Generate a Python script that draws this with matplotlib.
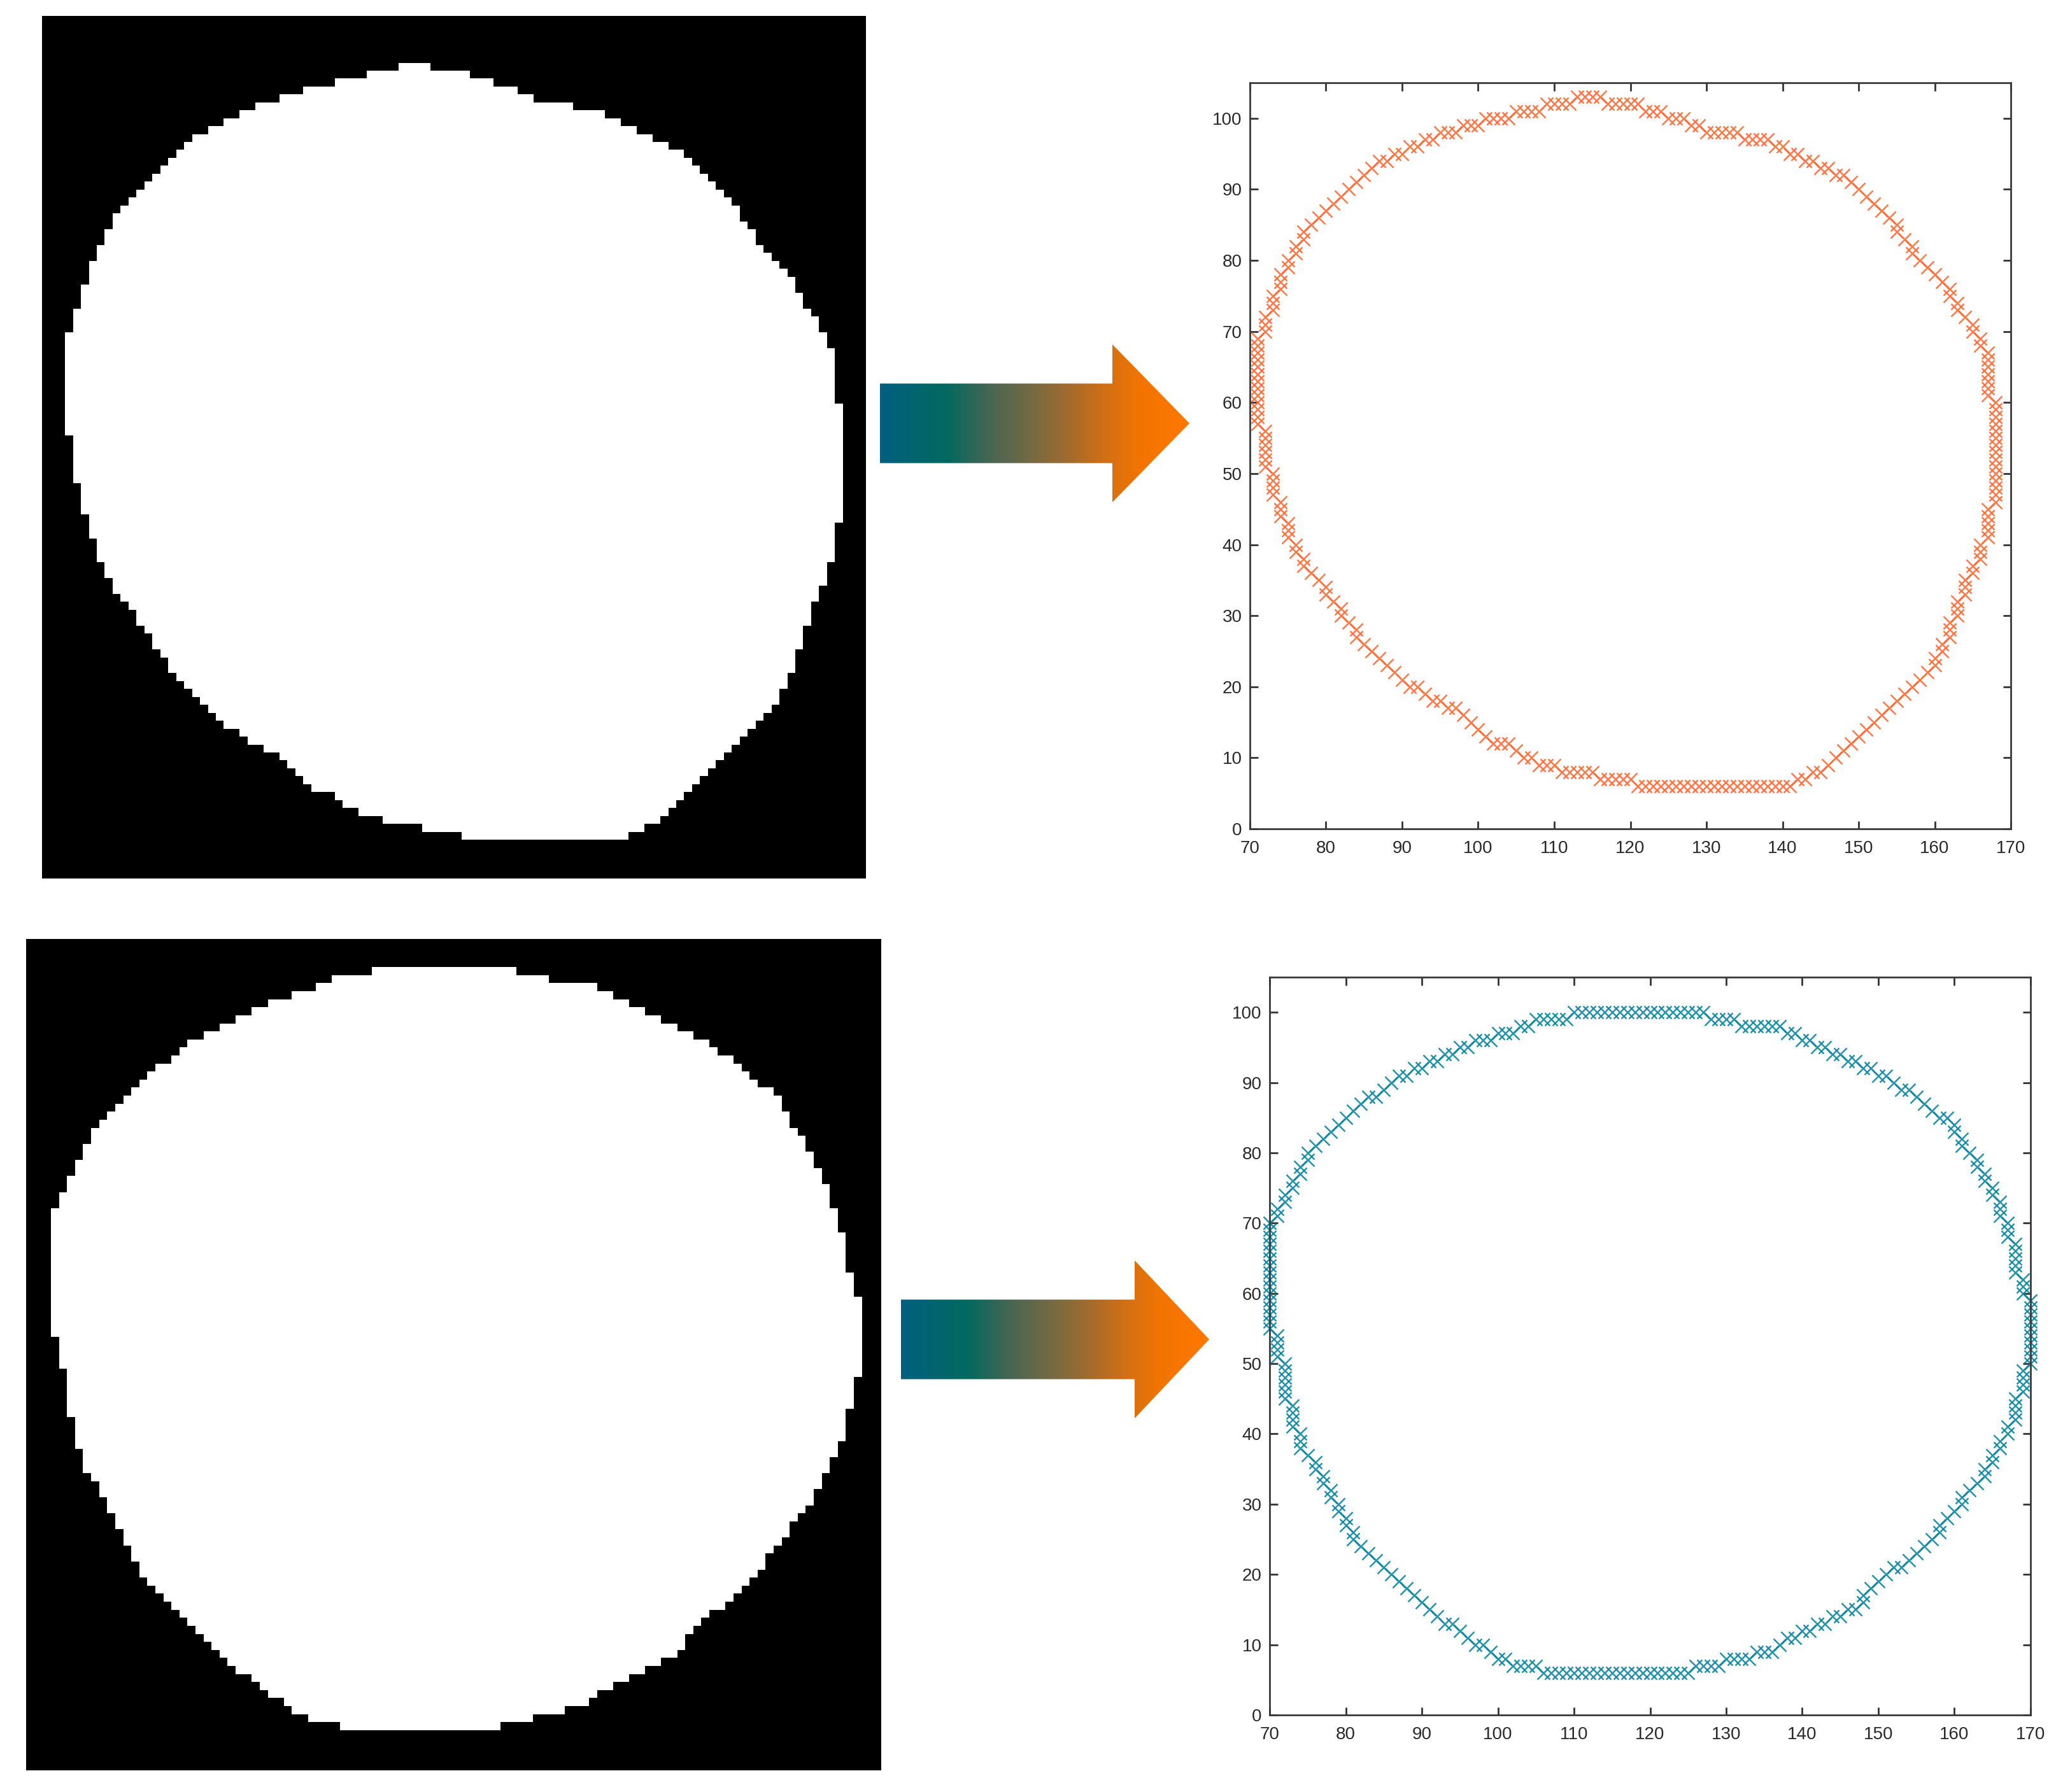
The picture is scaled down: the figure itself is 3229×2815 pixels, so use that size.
import numpy as np
import matplotlib
matplotlib.use('Agg')
import matplotlib.pyplot as plt
from matplotlib.path import Path
from matplotlib.patches import Polygon
from matplotlib.colors import LinearSegmentedColormap

plt.rcParams['font.family'] = ['Liberation Sans', 'DejaVu Sans']

# boundary pixels of the first mask (orange plot), traced clockwise from the top
top_edge = [
    (113, 103), (114, 103), (115, 103), (116, 103),
    (117, 102), (118, 102), (119, 102), (120, 102), (121, 102),
    (122, 101), (123, 101), (124, 101),
    (125, 100), (126, 100), (127, 100),
    (128, 99), (129, 99),
    (130, 98), (131, 98), (132, 98), (133, 98), (134, 98),
    (135, 97), (136, 97), (137, 97), (138, 97),
    (139, 96), (140, 96), (141, 95), (142, 95), (143, 94), (144, 94), (145, 93), (146, 93), (147, 92), (148, 92),
    (149, 91), (150, 90), (151, 89), (152, 88), (153, 87), (154, 86), (155, 85), (155, 84), (156, 83), (157, 82),
    (157, 81), (158, 80), (159, 79), (160, 78), (161, 77), (162, 76), (162, 75), (163, 74), (163, 73), (164, 72),
    (165, 71), (165, 70), (166, 69), (166, 68),
    (167, 67), (167, 66), (167, 65), (167, 64), (167, 63), (167, 62), (167, 61),
    (168, 60), (168, 59), (168, 58), (168, 57), (168, 56), (168, 55), (168, 54), (168, 53), (168, 52), (168, 51),
    (168, 50), (168, 49), (168, 48), (168, 47), (168, 46),
    (167, 45), (167, 44), (167, 43), (167, 42), (167, 41),
    (166, 40), (166, 39), (166, 38), (165, 37), (165, 36),
    (164, 35), (164, 34), (164, 33), (163, 32), (163, 31), (163, 30), (162, 29), (162, 28), (162, 27),
    (161, 26), (161, 25), (160, 24), (160, 23),
    (159, 22), (158, 21), (157, 20), (156, 19), (155, 18), (154, 17), (153, 16), (152, 15), (151, 14), (150, 13),
    (149, 12), (148, 11), (147, 10), (146, 9), (145, 8), (144, 8), (143, 7), (142, 7),
    (141, 6), (140, 6), (139, 6), (138, 6), (137, 6), (136, 6), (135, 6), (134, 6), (133, 6), (132, 6), (131, 6),
    (130, 6), (129, 6), (128, 6), (127, 6), (126, 6), (125, 6), (124, 6), (123, 6), (122, 6), (121, 6),
    (120, 7), (119, 7), (118, 7), (117, 7), (116, 7),
    (115, 8), (114, 8), (113, 8), (112, 8), (111, 8),
    (110, 9), (109, 9), (108, 9), (107, 10), (106, 10), (105, 11),
    (104, 12), (103, 12), (102, 12), (101, 13), (100, 14), (99, 15), (98, 16),
    (97, 17), (96, 17), (95, 18), (94, 18), (93, 19), (92, 20), (91, 20),
    (90, 21), (89, 22), (88, 23), (87, 24), (86, 25), (85, 26), (84, 27), (84, 28), (83, 29), (82, 30), (82, 31),
    (81, 32), (80, 33), (80, 34), (79, 35), (78, 36),
    (77, 37), (77, 38), (76, 39), (76, 40), (75, 41), (75, 42), (75, 43), (74, 44), (74, 45), (74, 46),
    (73, 47), (73, 48), (73, 49), (73, 50),
    (72, 51), (72, 52), (72, 53), (72, 54), (72, 55), (72, 56),
    (71, 57), (71, 58), (71, 59), (71, 60), (71, 61), (71, 62), (71, 63), (71, 64), (71, 65), (71, 66), (71, 67),
    (71, 68), (71, 69),
    (72, 70), (72, 71), (72, 72), (73, 73), (73, 74), (73, 75), (74, 76), (74, 77), (74, 78), (75, 79), (75, 80),
    (76, 81), (76, 82), (77, 83), (77, 84),
    (78, 85), (79, 86), (80, 87), (81, 88), (82, 89), (83, 90), (84, 91), (85, 92), (86, 93), (87, 94), (88, 94),
    (89, 95), (90, 95), (91, 96), (92, 96),
    (93, 97), (94, 97), (95, 98), (96, 98), (97, 98), (98, 99), (99, 99), (100, 99),
    (101, 100), (102, 100), (103, 100), (104, 100),
    (105, 101), (106, 101), (107, 101), (108, 101), (109, 102), (110, 102), (111, 102), (112, 102),
]

# boundary pixels of the second mask (teal plot)
bot_edge = [
    (110, 100), (111, 100), (112, 100), (113, 100), (114, 100), (115, 100), (116, 100), (117, 100), (118, 100),
    (119, 100), (120, 100), (121, 100), (122, 100), (123, 100), (124, 100), (125, 100), (126, 100), (127, 100),
    (128, 99), (129, 99), (130, 99), (131, 99),
    (132, 98), (133, 98), (134, 98), (135, 98), (136, 98), (137, 98),
    (138, 97), (139, 97), (140, 96), (141, 96), (142, 95), (143, 95), (144, 94), (145, 94), (146, 93), (147, 93),
    (148, 92), (149, 92), (150, 91), (151, 91), (152, 90), (153, 89), (154, 89), (155, 88), (156, 87), (157, 86),
    (158, 85), (159, 85), (160, 84), (160, 83), (161, 82), (161, 81), (162, 80), (163, 79), (163, 78), (164, 77),
    (164, 76), (165, 75), (165, 74), (166, 73), (166, 72), (166, 71), (167, 70), (167, 69), (167, 68),
    (168, 67), (168, 66), (168, 65), (168, 64), (168, 63), (169, 62), (169, 61), (169, 60),
    (170, 59), (170, 58), (170, 57), (170, 56), (170, 55), (170, 54), (170, 53), (170, 52), (170, 51), (170, 50),
    (169, 49), (169, 48), (169, 47), (169, 46), (168, 45), (168, 44), (168, 43), (168, 42),
    (167, 41), (167, 40), (166, 39), (166, 38), (165, 37), (165, 36), (164, 35), (164, 34), (163, 33), (162, 32),
    (161, 31), (161, 30), (160, 29), (159, 28), (158, 27), (158, 26), (157, 25), (156, 24), (155, 23), (154, 22),
    (153, 21), (152, 21), (151, 20), (150, 19), (149, 18), (148, 17), (148, 16), (147, 15), (146, 15), (145, 14),
    (144, 14), (143, 13), (142, 13), (141, 12), (140, 12), (139, 11), (138, 11), (137, 10), (136, 9), (135, 9),
    (134, 9), (133, 8), (132, 8), (131, 8), (130, 8), (129, 7), (128, 7), (127, 7), (126, 7),
    (125, 6), (124, 6), (123, 6), (122, 6), (121, 6), (120, 6), (119, 6), (118, 6), (117, 6), (116, 6),
    (115, 6), (114, 6), (113, 6), (112, 6), (111, 6), (110, 6), (109, 6), (108, 6), (107, 6), (106, 6),
    (105, 7), (104, 7), (103, 7), (102, 7),
    (101, 8), (100, 8), (99, 9), (98, 10), (97, 10), (96, 11), (95, 12), (94, 13), (93, 13), (92, 14), (91, 15),
    (90, 16), (89, 17), (88, 18), (87, 19), (86, 20), (85, 21), (84, 22), (83, 23), (82, 24), (81, 25), (81, 26),
    (80, 27), (80, 28), (79, 29), (79, 30), (78, 31), (78, 32), (77, 33), (77, 34), (76, 35), (76, 36), (75, 37),
    (74, 38), (74, 39), (74, 40), (73, 41), (73, 42), (73, 43), (73, 44),
    (72, 45), (72, 46), (72, 47), (72, 48), (72, 49), (72, 50), (71, 51), (71, 52), (71, 53), (71, 54),
    (70, 55), (70, 56), (70, 57), (70, 58), (70, 59), (70, 60), (70, 61), (70, 62), (70, 63), (70, 64), (70, 65),
    (70, 66), (70, 67), (70, 68), (70, 69), (70, 70),
    (71, 71), (71, 72), (72, 73), (72, 74), (73, 75), (73, 76), (74, 77), (74, 78), (75, 79), (75, 80), (76, 81),
    (77, 82), (78, 83), (79, 84), (80, 85), (81, 86), (82, 87), (83, 88), (84, 88), (85, 89), (86, 90), (87, 91),
    (88, 91), (89, 92), (90, 92), (91, 93), (92, 93), (93, 94), (94, 94), (95, 95), (96, 95), (97, 96), (98, 96),
    (99, 96), (100, 97), (101, 97), (102, 97), (103, 98), (104, 98),
    (105, 99), (106, 99), (107, 99), (108, 99), (109, 99),
]

x_ticks = [70, 80, 90, 100, 110, 120, 130, 140, 150, 160, 170]
y_ticks = [0, 10, 20, 30, 40, 50, 60, 70, 80, 90, 100]

orange = '#FF6A33'
teal = '#0B87A0'

W, H = 3230, 2815
fig = plt.figure(figsize=(W / 100, H / 100), dpi=100)
fig.patch.set_facecolor('white')


def mask_image(edge, x0, x1, y0, y1):
    # binary image: pixels inside or on the traced boundary are white
    pts = np.array(edge, dtype=float)
    path = Path(np.vstack([pts, pts[:1]]), closed=True)
    gx, gy = np.meshgrid(np.arange(x0, x1 + 1), np.arange(y0, y1 + 1))
    inside = path.contains_points(np.column_stack([gx.ravel(), gy.ravel()])).reshape(gx.shape)
    for px, py in edge:
        inside[py - y0, px - x0] = True
    return inside.astype(float)


def draw_mask(rect, edge, xr, yr, lims):
    ax = fig.add_axes(rect)
    img = mask_image(edge, xr[0], xr[1], yr[0], yr[1])
    ax.imshow(img, cmap='gray', vmin=0, vmax=1, origin='lower', interpolation='nearest',
              extent=(xr[0] - 0.5, xr[1] + 0.5, yr[0] - 0.5, yr[1] + 0.5), aspect='auto')
    ax.set_xlim(lims[0], lims[1])
    ax.set_ylim(lims[2], lims[3])
    ax.set_xticks([])
    ax.set_yticks([])
    for s in ax.spines.values():
        s.set_visible(False)
    return ax


def draw_scatter(rect, edge, colour):
    ax = fig.add_axes(rect)
    xs = [p[0] for p in edge]
    ys = [p[1] for p in edge]
    ax.plot(xs, ys, 'x', color=colour, ms=14, mew=1.8, alpha=0.9, clip_on=False)
    ax.set_xlim(70, 170)
    ax.set_ylim(0, 105)
    ax.set_xticks(x_ticks)
    ax.set_yticks(y_ticks)
    ax.tick_params(direction='in', length=9, width=2, top=True, right=True,
                   labelsize=20, labelcolor='#2a2a2a', color='#333333', pad=9)
    ax.tick_params(axis='x', pad=13)
    for s in ax.spines.values():
        s.set_linewidth(2)
        s.set_color('#3a3a3a')
    return ax


# arrows drawn in figure pixel space
arrow_cmap = LinearSegmentedColormap.from_list('arrow', [
    (0.0, '#00607F'), (0.22, '#04695F'), (0.36, '#4A6652'), (0.48, '#726A45'),
    (0.60, '#9E6B30'), (0.72, '#CF6F17'), (0.84, '#F27400'), (1.0, '#FF7800')])

ax_bg = fig.add_axes([0, 0, 1, 1])
ax_bg.set_axis_off()


def draw_arrow(tail, base, tip, cy, shaft_h, head_h):
    verts = [(tail, cy - shaft_h / 2), (base, cy - shaft_h / 2), (base, cy - head_h / 2), (tip, cy),
             (base, cy + head_h / 2), (base, cy + shaft_h / 2), (tail, cy + shaft_h / 2)]
    poly = Polygon(verts, closed=True, facecolor='none', edgecolor='none')
    ax_bg.add_patch(poly)
    grad = np.linspace(0, 1, 512).reshape(1, -1)
    im = ax_bg.imshow(grad, cmap=arrow_cmap, aspect='auto', interpolation='bilinear',
                      extent=(tail, tip, cy + head_h / 2, cy - head_h / 2))
    im.set_clip_path(poly)


draw_arrow(1382, 1747, 1868, 665, 125, 248)
draw_arrow(1415, 1782, 1899, 2104, 125, 248)
ax_bg.set_xlim(0, W)
ax_bg.set_ylim(H, 0)

# left: binary masks
draw_mask([66 / W, 1 - 1380 / H, (1360 - 66) / W, (1380 - 25) / H], top_edge,
          (67, 172), (0, 110), (67.6, 171.4, 0.6, 109.4))
draw_mask([41 / W, 1 - 2781 / H, (1384 - 41) / W, (2781 - 1475) / H], bot_edge,
          (65, 174), (-1, 105), (66.4, 172.9, 0.5, 104.0))

# right: boundary points
draw_scatter([1963 / W, 1 - 1302 / H, (3158 - 1963) / W, (1302 - 130) / H], top_edge, orange)
draw_scatter([1994 / W, 1 - 2694 / H, (3189 - 1994) / W, (2694 - 1535) / H], bot_edge, teal)

fig.savefig('out.png', dpi=100, facecolor='white')
